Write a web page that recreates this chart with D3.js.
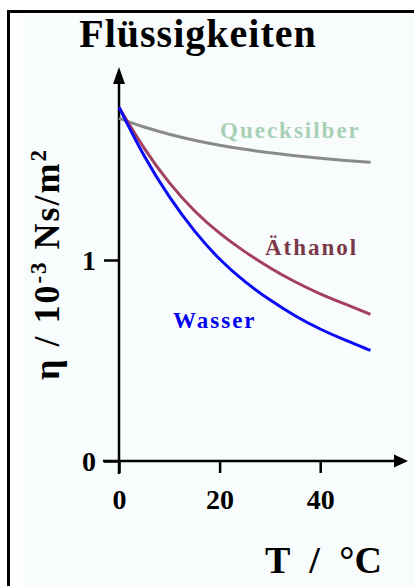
<!DOCTYPE html>
<html>
<head>
<meta charset="utf-8">
<script src="https://cdn.jsdelivr.net/npm/d3@7"></script>
<style>
  body { margin: 0; background: #fff; }
  svg { display: block; }
  text { font-family: "Liberation Serif", "DejaVu Serif", serif; font-weight: bold; }
</style>
</head>
<body>
<svg id="chart" width="414" height="586"></svg>
<script>
// temperature in °C
const temps = [0, 5, 10, 15, 20, 25, 30, 35, 40, 45, 50];
// viscosity in 10^-3 Ns/m^2
const wasser      = [1.76, 1.51, 1.31, 1.14, 1.00, 0.89, 0.80, 0.72, 0.655, 0.60, 0.55];
const aethanol    = [1.76, 1.55, 1.38, 1.24, 1.13, 1.04, 0.96, 0.89, 0.83, 0.78, 0.73];
const quecksilber = [1.705, 1.66, 1.625, 1.595, 1.57, 1.55, 1.533, 1.518, 1.506, 1.495, 1.486];
const xTicks = [0, 20, 40];
const yTicks = [0, 1];

const series = [
  { name: "Quecksilber", values: quecksilber, line: "#8a8a8a", label: "#a8d0b6", lx: 220, ly: 138 },
  { name: "Äthanol", values: aethanol, line: "#a3405e", label: "#7a3848", lx: 265, ly: 255 },
  { name: "Wasser", values: wasser, line: "#0a0af5", label: "#0000f0", lx: 173, ly: 328 }
];

const svg = d3.select("#chart");

// frame (only top and left edge visible)
svg.append("rect").attr("x", 23).attr("y", 14).attr("width", 391).attr("height", 572).attr("fill", "#f8fcfc");
svg.append("rect").attr("x", 7).attr("y", 10).attr("width", 407).attr("height", 3).attr("fill", "#000");
svg.append("rect").attr("x", 7).attr("y", 10).attr("width", 3).attr("height", 576).attr("fill", "#000");

const x = d3.scaleLinear().domain([0, 50]).range([119, 370.5]);
const y = d3.scaleLinear().domain([0, 1]).range([461, 260]);

// axes
const xAxis = svg.append("g").attr("transform", "translate(0," + y(0) + ")")
  .call(d3.axisBottom(x).tickValues(xTicks).tickSize(12).tickPadding(16));
const yAxis = svg.append("g").attr("transform", "translate(" + x(0) + ",0)")
  .call(d3.axisLeft(y).tickValues(yTicks).tickFormat(d3.format("d")).tickSize(15).tickPadding(8));
[xAxis, yAxis].forEach(g => {
  g.select(".domain").remove();
  g.selectAll(".tick line").attr("stroke", "#000").attr("stroke-width", 2.5);
  g.selectAll(".tick text").attr("fill", "#000").style("font-size", "28px")
    .style("font-family", "Liberation Serif").style("font-weight", "bold");
});
xAxis.selectAll(".tick text").attr("dy", "0.71em");
yAxis.selectAll(".tick text").attr("dy", "0.35em");

// axis lines with arrows
svg.append("line").attr("x1", 103).attr("x2", 396).attr("y1", y(0)).attr("y2", y(0))
  .attr("stroke", "#000").attr("stroke-width", 2.5);
svg.append("path").attr("d", d3.line()([[394, y(0) - 6.5], [408, y(0)], [394, y(0) + 6.5]]) + "Z").attr("fill", "#000");
svg.append("line").attr("x1", x(0)).attr("x2", x(0)).attr("y1", 474).attr("y2", 82)
  .attr("stroke", "#000").attr("stroke-width", 2.5);
svg.append("path").attr("d", d3.line()([[x(0) - 6, 84], [x(0), 67], [x(0) + 6, 84]]) + "Z").attr("fill", "#000");

// curves
const line = d3.line().x((d, i) => x(temps[i])).y(d => y(d)).curve(d3.curveBasis);
series.forEach(s => {
  svg.append("path").datum(s.values).attr("d", line)
    .attr("fill", "none").attr("stroke", s.line).attr("stroke-width", 3);
  svg.append("text").attr("x", s.lx).attr("y", s.ly).attr("fill", s.label)
    .style("font-size", "23px").style("letter-spacing", "2px").text(s.name);
});

// title
svg.append("text").attr("x", 198).attr("y", 47).attr("text-anchor", "middle")
  .style("font-size", "40px").style("letter-spacing", "1px").text("Flüssigkeiten");

// y label
const yl = svg.append("text").attr("transform", "translate(59,264) rotate(-90)")
  .attr("text-anchor", "middle").style("font-size", "36px").style("letter-spacing", "2px");
yl.append("tspan").text("η / 10");
yl.append("tspan").attr("dy", -13).style("font-size", "23px").text("-3");
yl.append("tspan").attr("dy", 13).text(" Ns/m");
yl.append("tspan").attr("dy", -13).style("font-size", "23px").text("2");

// x label
svg.append("text").attr("x", 323.5).attr("y", 573).attr("text-anchor", "middle")
  .style("font-size", "38px").style("word-spacing", "10px").text("T / °C");
</script>
</body>
</html>
